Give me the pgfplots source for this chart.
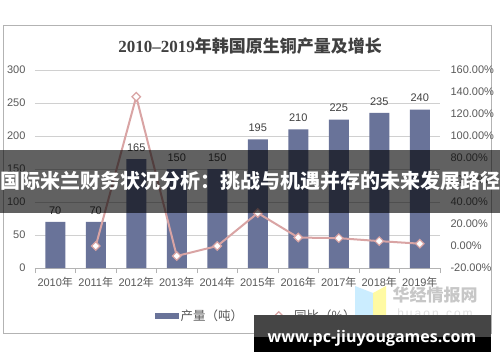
\documentclass[border=0pt]{standalone}
\usepackage{fontspec}
\usepackage{pgfplots}
\pgfplotsset{compat=1.18}
\setmainfont{Liberation Sans}
\newfontfamily\cjk{Noto Sans CJK SC}
\newfontfamily\serifb{Liberation Serif}
\newfontfamily\osans{Open Sans}
\definecolor{barcol}{HTML}{697399}
\definecolor{linecol}{HTML}{D9A4A4}
\definecolor{gridc}{HTML}{D0D0D0}
\definecolor{lab}{HTML}{595959}
\definecolor{dlab}{HTML}{404040}
\definecolor{framec}{HTML}{B3B3B3}
\pgfplotsset{mylineleg/.style={legend image code/.code={\draw[mark repeat=2,mark phase=2,##1] plot coordinates {(0pt,0pt) (12.5pt,0pt) (25pt,0pt)};}}}
\begin{document}
\begin{tikzpicture}[x=1pt,y=1pt]
\path[use as bounding box] (0,0) rectangle (500,362);
\fill[white] (0,0) rectangle (500,362);
\draw[framec, line width=0.8pt] (3.5,29) rectangle (491,337);
\node[text=dlab] at (250,316) {\fontsize{17}{20}\selectfont{\serifb\bfseries 2010–2019}{\cjk\bfseries 年韩国原生铜产量及增长}};
\begin{axis}[
  at={(35pt,94pt)}, anchor=south west, scale only axis,
  width=405pt, height=198pt,
  xmin=-0.5, xmax=9.5, ymin=0, ymax=300,
  ytick={0,50,...,300}, xtick={0,...,9},
  xticklabels={2010{\cjk 年},2011{\cjk 年},2012{\cjk 年},2013{\cjk 年},2014{\cjk 年},2015{\cjk 年},2016{\cjk 年},2017{\cjk 年},2018{\cjk 年},2019{\cjk 年}},
  minor xtick={-0.5,0.5,...,9.5},
  axis x line*=bottom, axis y line*=left,
  x axis line style={-, draw=framec, line width=0.8pt},
  y axis line style={draw=none},
  ymajorgrids, grid style={gridc, line width=0.8pt},
  major tick length=0pt, minor tick length=5pt, tick align=outside,
  minor tick style={framec, line width=0.8pt},
  tick label style={font=\fontsize{11}{13}\selectfont, text=lab},
  xticklabel style={yshift=-6pt},
  yticklabel style={xshift=-6pt},
  /pgf/number format/assume math mode=true,
  ybar, bar width=20pt,
  nodes near coords,
  nodes near coords style={font=\fontsize{11}{13}\selectfont, text=dlab, yshift=4pt},
]
\addplot[fill=barcol, draw=none] coordinates {(0,70) (1,70) (2,165) (3,150) (4,150) (5,195) (6,210) (7,225) (8,235) (9,240)};
\end{axis}
\begin{axis}[
  at={(35pt,94pt)}, anchor=south west, scale only axis,
  width=405pt, height=198pt,
  xmin=-0.5, xmax=9.5, ymin=-20, ymax=160,
  ytick={-20,0,...,160},
  axis y line*=right, y axis line style={draw=none},
  hide x axis, major tick length=0pt,
  yticklabel={\pgfmathprintnumber[fixed,fixed zerofill,precision=2]{\tick}\%},
  yticklabel style={font=\fontsize{11}{13}\selectfont, text=lab, xshift=7pt},
  /pgf/number format/assume math mode=true,
  legend style={at={(0.547,-0.2424)}, anchor=center, draw=none, fill=none,
    font=\cjk\fontsize{12.5}{14}\selectfont, text=lab, legend columns=2,
    /tikz/every even column/.append style={column sep=20pt}},
  legend cell align=left,
]
\addlegendimage{legend image code/.code={\fill[barcol] (0pt,-2.5pt) rectangle (23pt,2.5pt);}}
\addlegendentry{产量（吨）}
\addplot[linecol, line width=2pt, mark=square*, mark size=3pt,
  mark options={rotate=45, fill=white, draw=linecol, line width=1.2pt}, mylineleg]
  coordinates {(1,0) (2,135.71) (3,-9.09) (4,0) (5,30) (6,7.69) (7,7.14) (8,4.44) (9,2.13)};
\addlegendentry{同比（\%）}
\end{axis}
% watermark logo
\fill[blue!35!cyan!25, opacity=0.8] (355,76) -- (373,69) -- (373,39) -- (355,46) -- cycle;
\fill[yellow!45, opacity=0.8] (373,69) -- (386,76) -- (386,46) -- (373,39) -- cycle;
\node[text=black!22] at (435,67) {\cjk\bfseries\fontsize{17}{19}\selectfont 华经情报网};
\node[text=black!12] at (435,49) {\fontsize{12}{14}\selectfont h\,u\,a\,o\,n\,.\,c\,o\,m};
% overlay bands
\fill[black, opacity=0.62] (0,149) rectangle (500,212);
\node[anchor=west, inner sep=0pt, text=white] at (0,181) {\cjk\bfseries\fontsize{20}{23}\selectfont 国际米兰财务状况分析：挑战与机遇并存的未来发展路径};
\fill[black!73] (254,25) rectangle (491,47);
\fill[black] (254,10) rectangle (491,25);
\node[text=white] at (372,24) {\osans\bfseries\fontsize{16}{18}\selectfont www.pc-jiuyougames.com};
\end{tikzpicture}
\end{document}
